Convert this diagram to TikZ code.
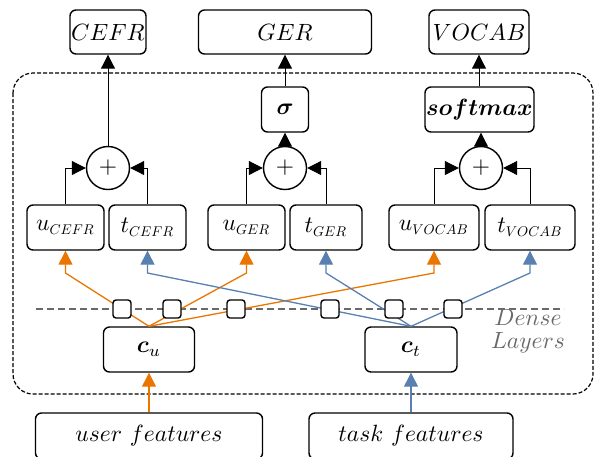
\documentclass[tikz,border=0pt]{standalone}
\usepackage{bm}
\usetikzlibrary{arrows.meta}
\definecolor{uorange}{RGB}{234,118,0}
\definecolor{tblue}{RGB}{88,128,176}
\definecolor{lgray}{RGB}{105,105,105}
\newcommand{\tx}[1]{\scalebox{2.35}{$#1$}}
\newcommand{\subtx}[1]{\scalebox{0.6}{$#1$}}
\tikzset{
  box/.style={draw, rounded corners=6pt, line width=1.4pt, inner sep=0pt},
  sumnode/.style={draw, circle, line width=1.4pt, minimum size=43pt, inner sep=0pt},
  sq/.style={draw, rounded corners=3pt, line width=1.4pt, minimum size=18pt, inner sep=0pt, fill=white},
  tip/.style={-{Triangle[length=14pt,width=14pt]}},
  conn/.style={line width=1pt, tip},
  oconn/.style={line width=1.3pt, uorange, tip},
  bconn/.style={line width=1.3pt, tblue, tip},
}
\begin{document}
\begin{tikzpicture}[x=1pt,y=-1pt]
\useasboundingbox (0,0) rectangle (596,456);
% container
\draw[line width=1.2pt, dash pattern=on 4pt off 2pt, rounded corners=20pt] (13,73) rectangle (593,394);
\draw[line width=1.3pt, lgray, dash pattern=on 7pt off 4pt] (36,309) -- (564,309);
\node[lgray, anchor=base, inner sep=0pt] (dl1) at (528,325.5) {\tx{Dense}};
\node[lgray, anchor=base, inner sep=0pt] (dl2) at (528,348) {\tx{Layers}};
% outputs
\node[box, minimum width=76pt, minimum height=44pt] (cefr) at (108,32) {\tx{CEFR}};
\node[box, minimum width=173pt, minimum height=44pt] (ger) at (285,32) {\tx{GER}};
\node[box, minimum width=100pt, minimum height=44pt] (vocab) at (479,32) {\tx{VOCAB}};
\node[box, minimum width=47pt, minimum height=45pt] (sig) at (285,109.5) {\tx{\bm{\sigma}}};
\node[box, minimum width=109pt, minimum height=45pt] (smax) at (479.5,109.5) {\tx{\bm{softmax}}};
% sums
\node[sumnode] (p1) at (108,168) {\tx{+}};
\node[sumnode] (p2) at (285,168) {\tx{+}};
\node[sumnode] (p3) at (481,168) {\tx{+}};
% embeddings
\node[box, minimum width=77pt, minimum height=45pt] (uc) at (65.5,227.5) {\tx{u_{\subtx{CEFR}}}};
\node[box, minimum width=77pt, minimum height=45pt] (tc) at (147.5,227.5) {\tx{t_{\subtx{CEFR}}}};
\node[box, minimum width=77pt, minimum height=45pt] (ug) at (246.5,227.5) {\tx{u_{\subtx{GER}}}};
\node[box, minimum width=72pt, minimum height=45pt] (tg) at (326,227.5) {\tx{t_{\subtx{GER}}}};
\node[box, minimum width=90pt, minimum height=45pt] (uv) at (434,227.5) {\tx{u_{\subtx{VOCAB}}}};
\node[box, minimum width=90pt, minimum height=45pt] (tv) at (530,227.5) {\tx{t_{\subtx{VOCAB}}}};
% encoders
\node[box, minimum width=91pt, minimum height=45pt] (cu) at (149,349.5) {\tx{\bm{c}_u}};
\node[box, minimum width=92pt, minimum height=45pt] (ct) at (411,349.5) {\tx{\bm{c}_t}};
\node[box, minimum width=227pt, minimum height=46pt] (uf) at (149,436) {\tx{user\ features}};
\node[box, minimum width=204pt, minimum height=46pt] (tf) at (411,436) {\tx{task\ features}};
% bend coordinates
\coordinate (b1) at (65.5,273);
\coordinate (b2) at (147.5,273);
\coordinate (b3) at (246.5,273);
\coordinate (b4) at (326,273);
\coordinate (b5) at (434,273);
\coordinate (b6) at (530,273);
% feature arrows
\draw[oconn] (uf.north) -- (cu.south);
\draw[bconn] (tf.north) -- (ct.south);
% dense connections
\draw[oconn] (cu.north) -- (b1) -- (uc.south);
\draw[oconn] (cu.north) -- (b3) -- (ug.south);
\draw[oconn] (cu.north) -- (b5) -- (uv.south);
\draw[bconn] (ct.north) -- (b2) -- (tc.south);
\draw[bconn] (ct.north) -- (b4) -- (tg.south);
\draw[bconn] (ct.north) -- (b6) -- (tv.south);
% dense squares
\node[sq] (s1) at (122,309) {};
\node[sq] (s2) at (172,309) {};
\node[sq] (s3) at (236,309) {};
\node[sq] (s4) at (330,309) {};
\node[sq] (s5) at (394,309) {};
\node[sq] (s6) at (453,309) {};
% sums
\draw[conn] (uc.north) |- (p1.west);
\draw[conn] (tc.north) |- (p1.east);
\draw[conn] (ug.north) |- (p2.west);
\draw[conn] (tg.north) |- (p2.east);
\draw[conn] (uv.north) |- (p3.west);
\draw[conn] (tv.north) |- (p3.east);
\draw[conn] (p1.north) -- (cefr.south);
\draw[conn] (p2.north) -- (sig.south);
\draw[conn] (sig.north) -- (ger.south);
\draw[conn] (p3.north) -- (smax.south -| p3.north);
\draw[conn] (smax.north -| vocab.south) -- (vocab.south);
\end{tikzpicture}
\end{document}
